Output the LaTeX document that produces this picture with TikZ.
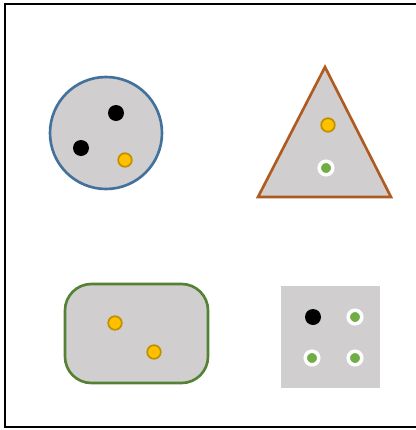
\documentclass[tikz,border=0pt]{standalone}
\usepackage{tikz}
\usetikzlibrary{calc}

\definecolor{shapegray}{HTML}{D0CECE}
\definecolor{circblue}{HTML}{41719C}
\definecolor{triorange}{HTML}{AE5A21}
\definecolor{boxgreen}{HTML}{548235}
\definecolor{dotgold}{HTML}{FFC000}
\definecolor{dotgoldrim}{HTML}{BF9000}
\definecolor{dotgreen}{HTML}{70AD47}

\tikzset{
  outline/.style={fill=shapegray,line width=1.5pt},
  blackdot/.style={fill=black},
  golddot/.style={fill=dotgold,draw=dotgoldrim,line width=1pt},
  greendot/.style={fill=dotgreen,draw=white,line width=2pt},
}

\begin{document}
\begin{tikzpicture}[x=0.02cm,y=-0.02cm]
  \useasboundingbox (0,0) rectangle (416,430);
  % ---------- outer frame
  \draw[line width=1.6pt] (5,4) rectangle (420,427);
  % ---------- circle, top left
  \draw[outline,draw=circblue] (106,133) circle (56);
  \fill[blackdot] (116,113) circle (8);
  \fill[blackdot] (81,148) circle (8);
  \draw[golddot] (125,160) circle (6.8);
  % ---------- triangle, top right
  \draw[outline,draw=triorange,line join=miter]
    (325,67) -- (391,197) -- (258,197) -- cycle;
  \draw[golddot] (328,125) circle (6.8);
  \draw[greendot] (326,168) circle (6.8);
  % ---------- rounded box, bottom left
  \draw[outline,draw=boxgreen,rounded corners=15]
    (65,284) rectangle (208,383);
  \draw[golddot] (115,323) circle (6.8);
  \draw[golddot] (154,352) circle (6.8);
  % ---------- plain square, bottom right
  \fill[shapegray] (281,286) rectangle (380,388);
  \fill[blackdot] (313,317) circle (8);
  \foreach \p in {(355,317),(312,358),(355,358)}
    \draw[greendot] \p circle (6.8);
\end{tikzpicture}
\end{document}
